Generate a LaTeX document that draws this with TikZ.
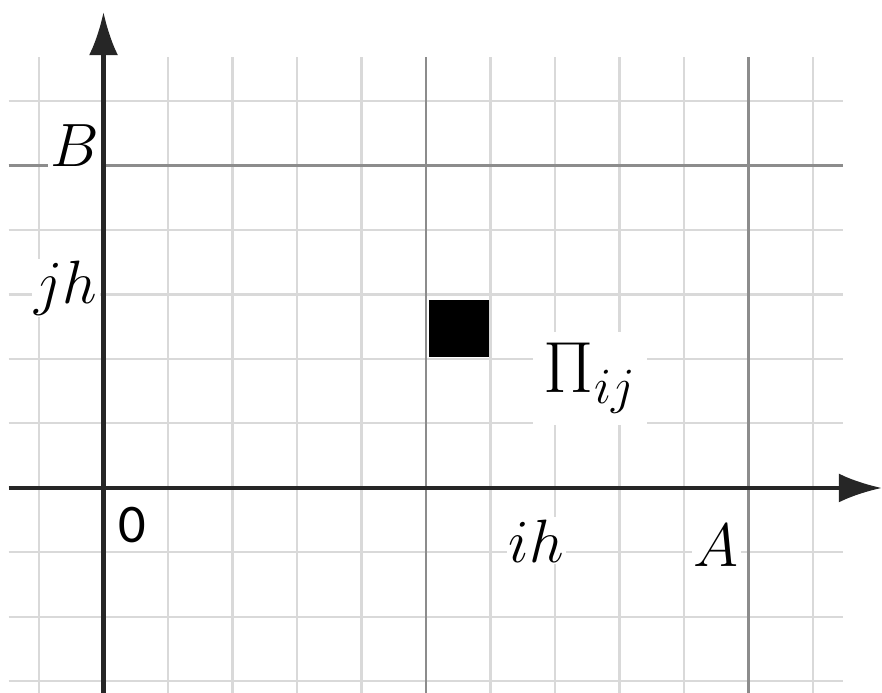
\RequirePackage{fix-cm}
\documentclass[tikz,border=0pt]{standalone}
\usepackage{fontspec}
\newfontfamily\zerofont{Carlito}
\usetikzlibrary{arrows.meta}

\begin{document}
\begin{tikzpicture}[x=1cm,y=1cm]
  \tikzstyle{minor}=[black!15,line width=0.9pt]
  \tikzstyle{major}=[black!45,line width=1.3pt]
  \tikzstyle{axis}=[black!85,line width=1.8pt,-{Latex[length=0.67cm,width=0.45cm]}]
  \tikzstyle{lbl}=[fill=white,inner sep=1pt,font=\fontsize{27}{32}\selectfont]
  \useasboundingbox (-1.605,-3.178) rectangle (12.07,7.566);
  % grid
  \draw[minor] (-1.47,-3.3) grid (11.47,6.68);
  \draw[major,step=5] (-1.47,-3.3) grid (11.47,6.68);
  % axes
  \coordinate (xs) at (-1.47,0);
  \coordinate (xe) at (12.07,0);
  \coordinate (ys) at (0,-3.3);
  \coordinate (ye) at (0,7.38);
  \draw[axis] (xs) -- (xe);
  \draw[axis] (ys) -- (ye);
  % cell
  \node[fill=black,minimum width=0.93cm,minimum height=0.88cm,inner sep=0pt] (cell) at (5.51,2.47) {};
  \node[lbl,inner sep=5pt,font=\fontsize{32}{38}\selectfont] (pij) at (7.54,1.70) {$\Pi_{ij}$};
  \node[lbl] (b) at (-0.45,5.31) {$B$};
  \node[lbl] (jh) at (-0.58,3.10) {$jh$};
  \node[lbl] (ih) at (6.71,-0.82) {$ih$};
  \node[lbl] (a) at (9.50,-0.89) {$A$};
  \node[font=\fontsize{24}{28}\zerofont] (o) at (0.45,-0.58) {0};
\end{tikzpicture}
\end{document}
